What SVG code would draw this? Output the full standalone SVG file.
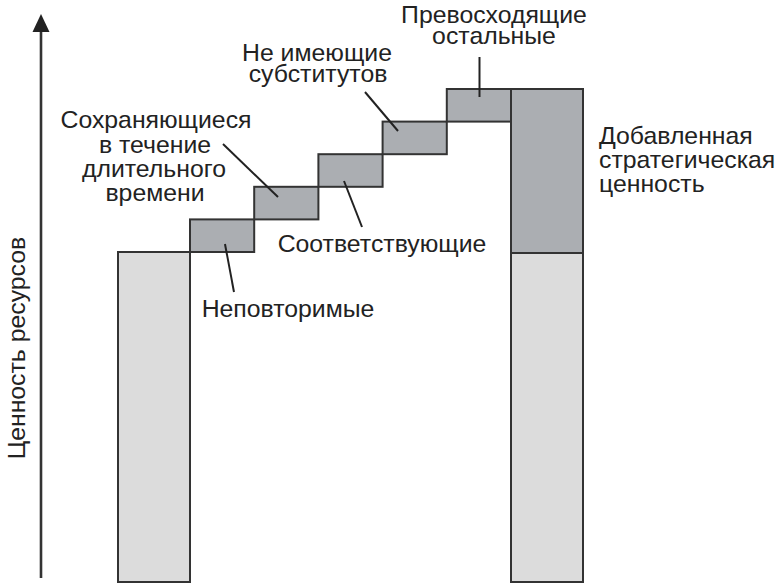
<svg xmlns="http://www.w3.org/2000/svg" width="776" height="584" viewBox="0 0 776 584">
<style>
.lbl{font-family:"Liberation Sans",Arial,sans-serif;font-size:24.8px;fill:#222}
.mid{text-anchor:middle}
.box{stroke:#333;stroke-width:2}
.dark{fill:#abaeb2}
.light{fill:#dcdcdc}
.lead{stroke:#222;stroke-width:2;fill:none}
</style>
<rect width="776" height="584" fill="#fff"/>
<g id="axis">
<line x1="41" y1="578" x2="41" y2="32" stroke="#333" stroke-width="2.6"/>
<path d="M32.5,32 L41,14 L49.5,32 Z" fill="#222"/>
<text class="lbl mid" transform="translate(25,348) rotate(-90)">Ценность ресурсов</text>
</g>
<g id="left-bar">
<rect class="box light" x="118" y="252" width="72" height="330"/>
</g>
<g id="steps">
<rect class="box dark" x="190" y="219.4" width="64.2" height="32.6"/>
<rect class="box dark" x="254.2" y="186.8" width="64.2" height="32.6"/>
<rect class="box dark" x="318.4" y="154.2" width="64.2" height="32.6"/>
<rect class="box dark" x="382.6" y="121.6" width="64.2" height="32.6"/>
<rect class="box dark" x="446.8" y="89" width="64.2" height="32.6"/>
</g>
<g id="right-bar">
<rect class="box light" x="511" y="253" width="72" height="329"/>
<rect class="box dark" x="511" y="89" width="72" height="164"/>
</g>
<g id="connectors">
<line class="lead" x1="225" y1="244" x2="234" y2="292"/>
<line class="lead" x1="344" y1="181" x2="362" y2="227"/>
<line class="lead" x1="223" y1="144" x2="278" y2="197"/>
<line class="lead" x1="365" y1="92" x2="398" y2="131"/>
<line class="lead" x1="479.5" y1="57" x2="479.5" y2="97"/>
</g>
<g id="label-nepovtorimye">
<text class="lbl mid" x="288" y="317">Неповторимые</text>
</g>
<g id="label-sootvetstvuyushchie">
<text class="lbl mid" x="382" y="251.5">Соответствующие</text>
</g>
<g id="label-sokhranyayushchiesya">
<text class="lbl mid" x="156" y="128.3">Сохраняющиеся</text>
<text class="lbl mid" x="155" y="152.8">в течение</text>
<text class="lbl mid" x="154" y="177.1">длительного</text>
<text class="lbl mid" x="155" y="201.4">времени</text>
</g>
<g id="label-ne-imeyushchie">
<text class="lbl mid" x="317" y="61">Не имеющие</text>
<text class="lbl mid" x="318" y="82">субститутов</text>
</g>
<g id="label-prevoskhodyashchie">
<text class="lbl mid" x="494" y="22.7">Превосходящие</text>
<text class="lbl mid" x="494" y="44.3">остальные</text>
</g>
<g id="label-dobavlennaya">
<text class="lbl" x="599" y="144.3">Добавленная</text>
<text class="lbl" x="599" y="168.2">стратегическая</text>
<text class="lbl" x="599" y="192">ценность</text>
</g>
</svg>
